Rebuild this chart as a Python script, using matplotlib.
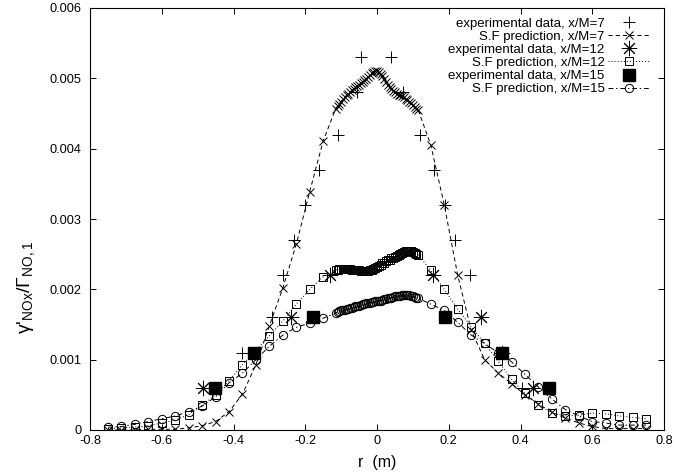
import matplotlib
matplotlib.use('Agg')
import matplotlib.pyplot as plt

# radial positions of the S.F prediction points: coarse outside, fine near the axis
r_left = [-0.75, -0.7125, -0.675, -0.6375, -0.6, -0.5625, -0.525, -0.4875, -0.45, -0.4125,
          -0.375, -0.3375, -0.3, -0.2625, -0.225, -0.1875, -0.15]
r_mid = [-0.115, -0.11, -0.105, -0.1, -0.095, -0.09, -0.085, -0.08, -0.075, -0.07,
         -0.065, -0.06, -0.055, -0.05, -0.045, -0.04, -0.035, -0.03, -0.025, -0.02,
         -0.015, -0.01, -0.005, 0.0, 0.005, 0.01, 0.015, 0.02, 0.025, 0.03,
         0.035, 0.04, 0.045, 0.05, 0.055, 0.06, 0.065, 0.07, 0.075, 0.08,
         0.085, 0.09, 0.095, 0.1, 0.105, 0.11, 0.115]
r_right = [0.15, 0.1875, 0.225, 0.2625, 0.3, 0.3375, 0.375, 0.4125, 0.45, 0.4875,
           0.525, 0.5625, 0.6, 0.6375, 0.675, 0.7125, 0.75]

sf7_left = [0.0, 0.0, 0.0, 0.00001, 0.00001, 0.00001, 0.00003, 0.00006, 0.00012, 0.00026,
            0.00051, 0.00093, 0.00148, 0.00202, 0.00264, 0.00339, 0.00411]
sf7_mid = [0.00457, 0.0046, 0.00464, 0.00467, 0.0047, 0.00473, 0.00476, 0.00478, 0.00481, 0.00483,
           0.00485, 0.00487, 0.00489, 0.00491, 0.00493, 0.00495, 0.00497, 0.00499, 0.00502, 0.00505,
           0.00507, 0.00509, 0.00511, 0.00511, 0.00509, 0.00506, 0.00503, 0.00499, 0.00495, 0.00491,
           0.00488, 0.00485, 0.00482, 0.0048, 0.00478, 0.00477, 0.00476, 0.00475, 0.00473, 0.00471,
           0.00469, 0.00467, 0.00465, 0.00462, 0.00459, 0.00457, 0.00455]
sf7_right = [0.00405, 0.0032, 0.0022, 0.00142, 0.001, 0.00081, 0.00066, 0.0005, 0.00037, 0.00025,
             0.00017, 0.0001, 0.00005, 0.00002, 0.00002, 0.00002, 0.00002]

sf12_left = [0.00002, 0.00003, 0.00004, 0.00006, 0.0001, 0.00014, 0.00022, 0.00035, 0.0005, 0.0007,
             0.00093, 0.00113, 0.00134, 0.00155, 0.00179, 0.002, 0.00218]
sf12_mid = [0.00228, 0.00228, 0.00229, 0.00229, 0.00229, 0.00229, 0.00229, 0.00229, 0.00229, 0.00228,
            0.00228, 0.00228, 0.00227, 0.00227, 0.00226, 0.00226, 0.00226, 0.00226, 0.00226, 0.00227,
            0.00228, 0.00229, 0.0023, 0.00232, 0.00233, 0.00235, 0.00237, 0.00238, 0.0024, 0.00241,
            0.00242, 0.00244, 0.00245, 0.00246, 0.00248, 0.00249, 0.0025, 0.00251, 0.00253, 0.00254,
            0.00254, 0.00254, 0.00254, 0.00253, 0.00252, 0.0025, 0.00249]
sf12_right = [0.00227, 0.002, 0.00172, 0.00147, 0.00123, 0.00098, 0.00072, 0.00052, 0.00036, 0.00024,
              0.0002, 0.00021, 0.00024, 0.00023, 0.0002, 0.00018, 0.00016]

sf15_left = [0.00004, 0.00005, 0.00008, 0.00012, 0.00016, 0.0002, 0.00026, 0.00034, 0.00047, 0.00067,
             0.00081, 0.001, 0.00119, 0.00135, 0.00146, 0.00152, 0.00159]
sf15_mid = [0.00166, 0.00168, 0.00169, 0.0017, 0.0017, 0.00171, 0.00172, 0.00172, 0.00173, 0.00174,
            0.00175, 0.00176, 0.00176, 0.00177, 0.00178, 0.00179, 0.00179, 0.0018, 0.00181, 0.00181,
            0.00182, 0.00182, 0.00183, 0.00183, 0.00184, 0.00184, 0.00185, 0.00186, 0.00186, 0.00187,
            0.00188, 0.00188, 0.00189, 0.0019, 0.0019, 0.00191, 0.00191, 0.00192, 0.00192, 0.00192,
            0.00192, 0.00192, 0.00191, 0.0019, 0.00189, 0.00188, 0.00187]
sf15_right = [0.00179, 0.0017, 0.00153, 0.00135, 0.00123, 0.0011, 0.00097, 0.00079, 0.00061, 0.00044,
              0.00029, 0.0002, 0.00012, 0.0001, 0.00007, 0.00007, 0.00007]

# experimental data
exp7_r = [-0.377, -0.293, -0.261, -0.231, -0.2, -0.161, -0.11, -0.057, -0.045,
          0.039, 0.073, 0.12, 0.16, 0.19, 0.217, 0.259, 0.405]
exp7_v = [0.0011, 0.0016, 0.0022, 0.0027, 0.0032, 0.0037, 0.0042, 0.0048, 0.0053,
          0.0053, 0.0048, 0.0042, 0.0037, 0.0032, 0.0027, 0.0022, 0.0006]
exp12_r = [-0.486, -0.241, -0.131, 0.157, 0.289, 0.348, 0.436]
exp12_v = [0.0006, 0.0016, 0.0022, 0.0022, 0.0016, 0.0011, 0.0006]
exp15_r = [-0.451, -0.342, -0.179, 0.19, 0.349, 0.479]
exp15_v = [0.0006, 0.0011, 0.0016, 0.0016, 0.0011, 0.0006]

xticks = [-0.8, -0.6, -0.4, -0.2, 0, 0.2, 0.4, 0.6, 0.8]
xlabels = ['-0.8', '-0.6', '-0.4', '-0.2', '0', '0.2', '0.4', '0.6', '0.8']
yticks = [0, 0.001, 0.002, 0.003, 0.004, 0.005, 0.006]
ylabels = ['0', '0.001', '0.002', '0.003', '0.004', '0.005', '0.006']

r_sf = r_left + r_mid + r_right
sf7 = sf7_left + sf7_mid + sf7_right
sf12 = sf12_left + sf12_mid + sf12_right
sf15 = sf15_left + sf15_mid + sf15_right

plt.rcParams['font.family'] = ['Liberation Sans', 'DejaVu Sans']
plt.rcParams['mathtext.fontset'] = 'custom'
plt.rcParams['mathtext.rm'] = 'Liberation Sans'
plt.rcParams['mathtext.it'] = 'Liberation Sans:italic'
plt.rcParams['lines.scale_dashes'] = False

fig = plt.figure(figsize=(6.74, 4.76), dpi=100)
ax = fig.add_axes([90/674, 46/476, 574/674, 422/476])

ax.plot(exp7_r, exp7_v, ls='none', marker='+', ms=9, mew=0.7, color='k',
        label='experimental data, x/M=7')
ax.plot(r_sf, sf7, ls=(0, (3, 2.2)), lw=0.7, marker='x', ms=5.5, mew=0.7, color='k',
        label='S.F prediction, x/M=7')
ax.plot(exp12_r, exp12_v, ls='none', marker=(8, 2, 0), ms=11, mew=0.7, color='k',
        label='experimental data, x/M=12')
ax.plot(r_sf, sf12, ls=(0, (0.7, 1.5)), lw=0.7, marker='s', ms=5.5, mfc='none', mec='k',
        mew=0.7, color='k', label='S.F prediction, x/M=12')
ax.plot(exp15_r, exp15_v, ls='none', marker='s', ms=9, color='k',
        label='experimental data, x/M=15')
ax.plot(r_sf, sf15, ls=(0, (3.5, 2, 1, 2)), lw=0.7, marker='o', ms=6, mfc='none', mec='k',
        mew=0.7, color='k', label='S.F prediction, x/M=15')

ax.set_xlim(-0.8, 0.8)
ax.set_ylim(0, 0.006)
ax.set_xticks(xticks)
ax.set_xticklabels(xlabels)
ax.set_yticks(yticks)
ax.set_yticklabels(ylabels)
ax.tick_params(direction='in', top=True, right=True, length=4, width=0.7, labelsize=9.2)
ax.tick_params(axis='x', pad=3.5)
ax.tick_params(axis='y', pad=6)
for s in ax.spines.values():
    s.set_linewidth(0.8)

ax.set_xlabel('r  (m)', fontsize=11.5, labelpad=6)
fig.text(26/674, 1 - 287/476, "γ'$_{\\rm NOx}$/Γ$_{\\rm NO,1}$", rotation=90,
         ha='center', va='center', fontsize=14)

leg = ax.legend(loc='upper right', bbox_to_anchor=(0.9756, 0.978), frameon=False,
                markerfirst=False, fontsize=9.5, handlelength=3.2, handletextpad=0.25,
                labelspacing=0.07, borderpad=0, borderaxespad=0, numpoints=1)

fig.savefig('out.png', dpi=100)
